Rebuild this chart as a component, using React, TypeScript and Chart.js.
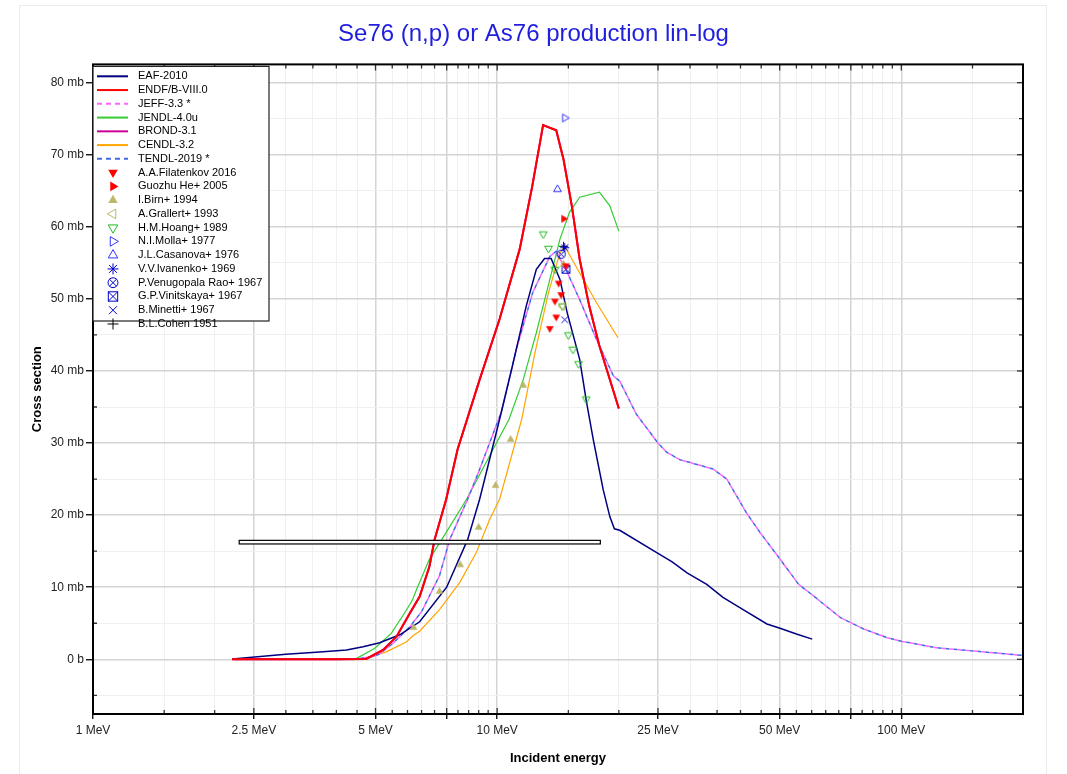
import React, { useEffect, useRef } from 'react';
import { Chart, registerables } from 'chart.js';
Chart.register(...registerables);

const FONT = "'Liberation Sans', Arial, Helvetica, sans-serif";
const TITLE = 'Se76 (n,p) or As76 production lin-log';

// ---- Evaluated libraries: energy (MeV) / cross section (mb)
const eafE = [2.21, 3.0, 3.64, 4.24, 4.66, 5.12, 5.74, 6.43, 7.5, 8.45, 9.05, 10.14, 10.9, 11.8, 12.5, 13.1, 13.6, 14.3, 14.9, 16.0, 16.3, 16.6, 17.3, 18.3, 19.0, 19.5, 20.1, 25.0, 27.1, 29.5, 33.0, 36.2, 40.6, 46.5, 50.1, 55.0, 60.2];
const eafXS = [0.05, 0.7, 1.0, 1.3, 1.75, 2.3, 3.4, 5.2, 10.0, 16.6, 22.2, 33.3, 40.6, 49.0, 54.1, 55.6, 55.6, 52.7, 48.1, 41.6, 38.8, 36.0, 30.4, 23.5, 19.8, 18.1, 17.9, 14.7, 13.5, 12.0, 10.4, 8.6, 6.9, 4.9, 4.3, 3.5, 2.8];

const endfE = [2.21, 3.0, 4.0, 4.74, 5.22, 5.63, 6.08, 6.43, 6.8, 7.0, 7.48, 7.98, 9.05, 10.14, 11.37, 12.2, 12.99, 14.0, 14.6, 15.3, 16.0, 16.9, 17.9, 20.0];
const endfXS = [0, 0, 0, 0.05, 1.3, 3.1, 6.4, 8.7, 12.9, 16.6, 22.2, 29.1, 38.8, 47.2, 56.9, 65.5, 74.1, 73.4, 69.3, 62.9, 55.5, 49.0, 43.5, 34.8];

const jeffE = [2.21, 4.0, 4.5, 4.93, 5.1, 5.52, 6.08, 6.5, 7.2, 7.63, 8.45, 9.0, 9.5, 10.24, 11.15, 12.25, 13.5, 14.0, 14.9, 16.0, 17.6, 19.4, 20.1, 22.1, 25.0, 26.3, 28.3, 34.2, 37.0, 41.4, 44.7, 50.1, 55.7, 60.6, 70.6, 80.7, 92.2, 100, 122, 151, 199];
const jeffXS = [0, 0, 0.05, 0.4, 0.7, 2.2, 4.5, 6.6, 11.6, 16.6, 22.2, 26.0, 29.5, 34.3, 43.0, 50.9, 55.9, 56.6, 53.7, 49.9, 44.4, 39.3, 38.6, 34.0, 30.0, 28.7, 27.7, 26.4, 25.0, 20.3, 17.6, 13.9, 10.4, 8.8, 5.8, 4.2, 3.0, 2.5, 1.6, 1.15, 0.55];

const jendlE = [2.21, 4.0, 4.48, 4.97, 5.47, 5.96, 6.18, 6.31, 6.8, 7.48, 8.4, 10.7, 11.6, 12.5, 13.5, 14.3, 15.1, 16.0, 17.9, 19.0, 20.0];
const jendlXS = [0, 0, 0.1, 1.5, 3.6, 6.8, 8.3, 9.6, 13.9, 17.6, 22.2, 33.3, 38.8, 45.3, 52.7, 58.3, 62.0, 64.1, 64.8, 62.9, 59.4];

const brondE = endfE;
const brondXS = endfXS;

const cendlE = [2.21, 4.0, 4.74, 5.1, 5.3, 5.96, 6.2, 6.43, 7.2, 8.07, 8.88, 9.58, 10.14, 11.5, 12.4, 13.4, 14.3, 14.7, 16.0, 17.6, 19.9];
const cendlXS = [0, 0, 0.1, 0.7, 1.0, 2.4, 3.3, 3.9, 6.9, 10.6, 14.8, 19.4, 22.2, 33.3, 42.5, 50.9, 56.4, 57.3, 53.6, 49.5, 44.6];

const tendlE = jeffE;
const tendlXS = jeffXS;

// ---- Experimental data: energy (MeV) / cross section (mb)
const filatenkovE = [14.8, 14.2, 14.4, 13.9, 14.0, 13.5];
const filatenkovXS = [54.6, 52.2, 50.6, 49.7, 47.5, 45.9];
const guozhuE = [14.6];
const guozhuXS = [61.1];
const birnE = [6.21, 7.2, 8.1, 9.0, 9.91, 10.8, 11.6, 14.6];
const birnXS = [4.4, 9.4, 13.1, 18.3, 24.1, 30.5, 38.0, 54.8];
const grallertE = [14.5];
const grallertXS = [49.0];
const hoangE = [13.0, 13.4, 13.9, 14.5, 15.0, 15.4, 15.9, 16.6];
const hoangXS = [59.0, 57.0, 54.1, 49.0, 45.0, 43.0, 41.0, 36.1];
const mollaE = [14.7];
const mollaXS = [75.1];
const casanovaE = [14.1];
const casanovaXS = [65.2];
const ivanenkoE = [14.7];
const ivanenkoXS = [57.1];
const venugopalaE = [14.4];
const venugopalaXS = [56.2];
const vinitskayaE = [14.8];
const vinitskayaXS = [54.1];
const minettiE = [14.7];
const minettiXS = [47.1];
const cohenE = [14.6];
const cohenXS = [57.3];

// Boxed energy band drawn in the plot (MeV / mb)
const bandE = [2.3, 18.0];
const bandXS = [16.0, 16.5];

// ---- Axes
const xMin = 1;
const xMax = 200;
const yMin = -7.59;
const yMax = 82.53;
const xTickValues = [1, 1.5, 2, 2.5, 3, 3.5, 4, 4.5, 5, 5.5, 6, 6.5, 7, 7.5, 8, 8.5, 9, 9.5, 10, 15, 20, 25, 30, 35, 40, 45, 50, 55, 60, 65, 70, 75, 80, 85, 90, 95, 100, 150];
const xMajorValues = [1, 2.5, 5, 7.5, 10, 25, 50, 75, 100];
const xLabelValues = [1, 2.5, 5, 10, 25, 50, 100];
const yTickValues = [-5, 0, 5, 10, 15, 20, 25, 30, 35, 40, 45, 50, 55, 60, 65, 70, 75, 80];

const zip = (xs: number[], ys: number[]) => xs.map((x, i) => ({ x, y: ys[i] }));

type MarkerKind = 'triDown' | 'triUp' | 'triRight' | 'triLeft' | 'asterisk' | 'circleX' | 'squareX' | 'x' | 'plus';

function drawMarker(ctx: CanvasRenderingContext2D, kind: MarkerKind, cx: number, cy: number, r: number, color: string, filled: boolean) {
  ctx.save();
  ctx.strokeStyle = color;
  ctx.fillStyle = color;
  ctx.lineWidth = 1;
  const tri = (angle: number) => {
    ctx.beginPath();
    for (let i = 0; i < 3; i++) {
      const a = angle + (i * 2 * Math.PI) / 3;
      const px = cx + r * Math.cos(a);
      const py = cy + r * Math.sin(a);
      if (i === 0) ctx.moveTo(px, py);
      else ctx.lineTo(px, py);
    }
    ctx.closePath();
    if (filled) ctx.fill();
    else ctx.stroke();
  };
  const seg = (x1: number, y1: number, x2: number, y2: number) => {
    ctx.beginPath();
    ctx.moveTo(x1, y1);
    ctx.lineTo(x2, y2);
    ctx.stroke();
  };
  const d = r * 0.72;
  switch (kind) {
    case 'triDown': tri(Math.PI / 2); break;
    case 'triUp': tri(-Math.PI / 2); break;
    case 'triRight': tri(0); break;
    case 'triLeft': tri(Math.PI); break;
    case 'asterisk':
      seg(cx - r, cy, cx + r, cy);
      seg(cx, cy - r, cx, cy + r);
      seg(cx - d, cy - d, cx + d, cy + d);
      seg(cx - d, cy + d, cx + d, cy - d);
      break;
    case 'circleX':
      ctx.beginPath();
      ctx.arc(cx, cy, r * 0.9, 0, Math.PI * 2);
      ctx.stroke();
      seg(cx - d * 0.9, cy - d * 0.9, cx + d * 0.9, cy + d * 0.9);
      seg(cx - d * 0.9, cy + d * 0.9, cx + d * 0.9, cy - d * 0.9);
      break;
    case 'squareX': {
      const h = r * 0.85;
      ctx.strokeRect(cx - h, cy - h, 2 * h, 2 * h);
      seg(cx - h, cy - h, cx + h, cy + h);
      seg(cx - h, cy + h, cx + h, cy - h);
      break;
    }
    case 'x':
      seg(cx - d, cy - d, cx + d, cy + d);
      seg(cx - d, cy + d, cx + d, cy - d);
      break;
    case 'plus':
      seg(cx - r, cy, cx + r, cy);
      seg(cx, cy - r, cx, cy + r);
      break;
  }
  ctx.restore();
}

function makeMarker(kind: MarkerKind, color: string, filled: boolean, r: number): HTMLCanvasElement {
  const size = Math.ceil(2 * r + 4);
  const c = document.createElement('canvas');
  c.width = size;
  c.height = size;
  const ctx = c.getContext('2d')!;
  drawMarker(ctx, kind, size / 2, size / 2, r, color, filled);
  return c;
}

const lineSeries = [
  { label: 'EAF-2010', E: eafE, XS: eafXS, color: '#000080', width: 1.5, dash: [] as number[], offset: 0, order: 3 },
  { label: 'ENDF/B-VIII.0', E: endfE, XS: endfXS, color: '#ff0000', width: 2, dash: [] as number[], offset: 0, order: 1 },
  { label: 'JEFF-3.3 *', E: jeffE, XS: jeffXS, color: '#ff66ff', width: 1.5, dash: [4, 4], offset: 4, order: 4 },
  { label: 'JENDL-4.0u', E: jendlE, XS: jendlXS, color: '#33cc33', width: 1.2, dash: [] as number[], offset: 0, order: 6 },
  { label: 'BROND-3.1', E: brondE, XS: brondXS, color: '#cc0099', width: 2, dash: [] as number[], offset: 0, order: 2 },
  { label: 'CENDL-3.2', E: cendlE, XS: cendlXS, color: '#ffa500', width: 1.2, dash: [] as number[], offset: 0, order: 7 },
  { label: 'TENDL-2019 *', E: tendlE, XS: tendlXS, color: '#4169e1', width: 1.5, dash: [4, 4], offset: 0, order: 5 },
];

const pointSeries: { label: string; E: number[]; XS: number[]; kind: MarkerKind; color: string; filled: boolean }[] = [
  { label: 'A.A.Filatenkov 2016', E: filatenkovE, XS: filatenkovXS, kind: 'triDown', color: '#ff0000', filled: true },
  { label: 'Guozhu He+ 2005', E: guozhuE, XS: guozhuXS, kind: 'triRight', color: '#ff0000', filled: true },
  { label: 'I.Birn+ 1994', E: birnE, XS: birnXS, kind: 'triUp', color: '#bdb76b', filled: true },
  { label: 'A.Grallert+ 1993', E: grallertE, XS: grallertXS, kind: 'triLeft', color: '#bdb76b', filled: false },
  { label: 'H.M.Hoang+ 1989', E: hoangE, XS: hoangXS, kind: 'triDown', color: '#22bb22', filled: false },
  { label: 'N.I.Molla+ 1977', E: mollaE, XS: mollaXS, kind: 'triRight', color: '#3333ff', filled: false },
  { label: 'J.L.Casanova+ 1976', E: casanovaE, XS: casanovaXS, kind: 'triUp', color: '#3333ff', filled: false },
  { label: 'V.V.Ivanenko+ 1969', E: ivanenkoE, XS: ivanenkoXS, kind: 'asterisk', color: '#0000cc', filled: false },
  { label: 'P.Venugopala Rao+ 1967', E: venugopalaE, XS: venugopalaXS, kind: 'circleX', color: '#0000cc', filled: false },
  { label: 'G.P.Vinitskaya+ 1967', E: vinitskayaE, XS: vinitskayaXS, kind: 'squareX', color: '#0000cc', filled: false },
  { label: 'B.Minetti+ 1967', E: minettiE, XS: minettiXS, kind: 'x', color: '#0000cc', filled: false },
  { label: 'B.L.Cohen 1951', E: cohenE, XS: cohenXS, kind: 'plus', color: '#000000', filled: false },
];

const decorPlugin = {
  id: 'decor',
  beforeDraw(chart: any) {
    const { ctx } = chart;
    ctx.save();
    ctx.strokeStyle = '#ebebeb';
    ctx.lineWidth = 1;
    ctx.strokeRect(19.5, 5.5, 1027, 800);
    ctx.restore();
  },
  afterDatasetsDraw(chart: any) {
    const { ctx, chartArea: a } = chart;
    const xs = chart.scales.x;
    const ys = chart.scales.y;
    ctx.save();
    // energy band box
    const bx0 = xs.getPixelForValue(bandE[0]);
    const bx1 = xs.getPixelForValue(bandE[1]);
    const by0 = ys.getPixelForValue(bandXS[1]);
    const by1 = ys.getPixelForValue(bandXS[0]);
    ctx.fillStyle = '#ffffff';
    ctx.fillRect(bx0, by0, bx1 - bx0, by1 - by0);
    ctx.strokeStyle = '#000000';
    ctx.lineWidth = 1.2;
    ctx.strokeRect(bx0, by0, bx1 - bx0, by1 - by0);

    // inward ticks
    ctx.strokeStyle = '#333333';
    ctx.lineWidth = 1.3;
    xTickValues.forEach((v) => {
      const px = xs.getPixelForValue(v);
      const len = xMajorValues.includes(v) ? 6 : 4;
      ctx.beginPath();
      ctx.moveTo(px, a.bottom);
      ctx.lineTo(px, a.bottom - len);
      ctx.moveTo(px, a.top);
      ctx.lineTo(px, a.top + len);
      ctx.stroke();
    });
    yTickValues.forEach((v) => {
      const py = ys.getPixelForValue(v);
      const major = v % 10 === 0;
      ctx.beginPath();
      if (!major) {
        ctx.moveTo(a.left, py);
        ctx.lineTo(a.left + 4, py);
      }
      ctx.moveTo(a.right, py);
      ctx.lineTo(a.right - (major ? 6 : 4), py);
      ctx.stroke();
    });

    // frame
    ctx.strokeStyle = '#000000';
    ctx.lineWidth = 2;
    ctx.strokeRect(a.left, a.top, a.right - a.left, a.bottom - a.top);
    ctx.restore();
  },
  afterDraw(chart: any) {
    const { ctx, chartArea: a } = chart;
    const left = a.left;
    const top = a.top + 2;
    const right = 269;
    const bottom = 321;
    ctx.save();
    ctx.fillStyle = '#ffffff';
    ctx.fillRect(left, top, right - left, bottom - top);
    ctx.strokeStyle = '#222222';
    ctx.lineWidth = 1.2;
    ctx.strokeRect(left, top, right - left, bottom - top);
    ctx.font = `11px ${FONT}`;
    ctx.textBaseline = 'middle';
    ctx.textAlign = 'left';
    const step = 13.76;
    let y = a.top + 11.9;
    lineSeries.forEach((s) => {
      ctx.save();
      ctx.strokeStyle = s.color;
      ctx.lineWidth = 2;
      ctx.setLineDash(s.dash.length ? [5, 4] : []);
      ctx.beginPath();
      ctx.moveTo(left + 4, y);
      ctx.lineTo(left + 35, y);
      ctx.stroke();
      ctx.restore();
      ctx.fillStyle = '#000000';
      ctx.fillText(s.label, 138, y);
      y += step;
    });
    pointSeries.forEach((s) => {
      drawMarker(ctx, s.kind, 113, y, 5.5, s.color, s.filled);
      ctx.fillStyle = '#000000';
      ctx.fillText(s.label, 138, y);
      y += step;
    });
    ctx.restore();
  },
};

export default function App() {
  const ref = useRef<HTMLCanvasElement>(null);
  useEffect(() => {
    const lineSets = lineSeries.map((s) => ({
      label: s.label,
      data: zip(s.E, s.XS),
      xAxisID: 'x',
      yAxisID: 'y',
      showLine: true,
      borderColor: s.color,
      backgroundColor: s.color,
      borderWidth: s.width,
      borderDash: s.dash,
      borderDashOffset: s.offset,
      pointRadius: 0,
      pointHoverRadius: 0,
      tension: 0,
      fill: false,
      order: s.order,
    }));
    const pointSets = pointSeries.map((s) => ({
      label: s.label,
      data: zip(s.E, s.XS),
      xAxisID: 'x',
      yAxisID: 'y',
      showLine: false,
      pointStyle: makeMarker(s.kind, s.color, s.filled, 4.5),
      pointRadius: 5,
      borderColor: s.color,
      backgroundColor: s.color,
      order: 0,
    }));

    const tickFont = { family: FONT, size: 12 };
    const chart = new Chart(ref.current!, {
      type: 'scatter',
      data: { datasets: [...lineSets, ...pointSets] as any },
      plugins: [decorPlugin],
      options: {
        animation: false,
        responsive: false,
        events: [],
        layout: { padding: { left: 0, right: 0, top: 0, bottom: 0 } },
        plugins: {
          legend: { display: false },
          tooltip: { enabled: false },
          title: {
            display: true,
            text: TITLE,
            color: '#1f1fdd',
            font: { family: FONT, size: 24, weight: 'normal' },
            padding: { top: 19.6, bottom: 16 },
          },
        },
        scales: {
          x: {
            type: 'logarithmic',
            position: 'bottom',
            min: xMin,
            max: xMax,
            afterBuildTicks: (scale: any) => {
              scale.ticks = xTickValues.map((v) => ({ value: v, major: xMajorValues.includes(v) }));
            },
            afterFit: (scale: any) => {
              scale.height = 60;
            },
            ticks: {
              autoSkip: false,
              maxRotation: 0,
              minRotation: 0,
              padding: 4,
              color: '#222222',
              font: tickFont,
              callback: (v: any) => (xLabelValues.includes(Number(v)) ? `${v} MeV` : ''),
            },
            grid: {
              color: (c: any) => (c.tick && xMajorValues.includes(c.tick.value) ? '#d4d4d4' : '#f0f0f0'),
              lineWidth: (c: any) => (c.tick && xMajorValues.includes(c.tick.value) ? 1.5 : 1),
              tickColor: (c: any) => (c.tick && xMajorValues.includes(c.tick.value) ? '#000000' : 'rgba(0,0,0,0)'),
              tickLength: 5,
              tickWidth: 1.3,
            },
            border: { display: false },
            title: {
              display: true,
              text: 'Incident energy',
              color: '#000000',
              font: { family: FONT, size: 13, weight: 'bold' },
              padding: { top: 0, bottom: 8 },
            },
          },
          y: {
            type: 'linear',
            position: 'left',
            min: yMin,
            max: yMax,
            afterBuildTicks: (scale: any) => {
              scale.ticks = yTickValues.map((v) => ({ value: v, major: v % 10 === 0 }));
            },
            afterFit: (scale: any) => {
              scale.width = 93;
            },
            ticks: {
              padding: 2,
              color: '#222222',
              font: tickFont,
              callback: (v: any) => {
                const n = Number(v);
                if (Math.abs(n % 10) > 1e-9) return '';
                return n === 0 ? '0 b' : `${n} mb`;
              },
            },
            grid: {
              color: (c: any) => (c.tick && c.tick.value % 10 === 0 ? '#d4d4d4' : '#f0f0f0'),
              lineWidth: (c: any) => (c.tick && c.tick.value % 10 === 0 ? 1.5 : 1),
              tickColor: (c: any) => (c.tick && c.tick.value % 10 === 0 ? '#000000' : 'rgba(0,0,0,0)'),
              tickLength: 7,
              tickWidth: 1.3,
            },
            border: { display: false },
            title: {
              display: true,
              text: 'Cross section',
              color: '#000000',
              font: { family: FONT, size: 13, weight: 'bold' },
              padding: { top: 30, bottom: 0 },
            },
          },
          yRightSpace: {
            type: 'linear',
            position: 'right',
            min: yMin,
            max: yMax,
            afterFit: (scale: any) => {
              scale.width = 44;
            },
            ticks: { display: false },
            grid: { display: false, drawTicks: false },
            border: { display: false },
            title: { display: false },
          },
        },
      } as any,
    });
    return () => chart.destroy();
  }, []);

  return (
    <div style={{ position: 'absolute', left: 0, top: 0, width: 1067, height: 774, background: '#ffffff' }}>
      <canvas ref={ref} width={1067} height={774} style={{ display: 'block', width: 1067, height: 774 }} />
    </div>
  );
}
